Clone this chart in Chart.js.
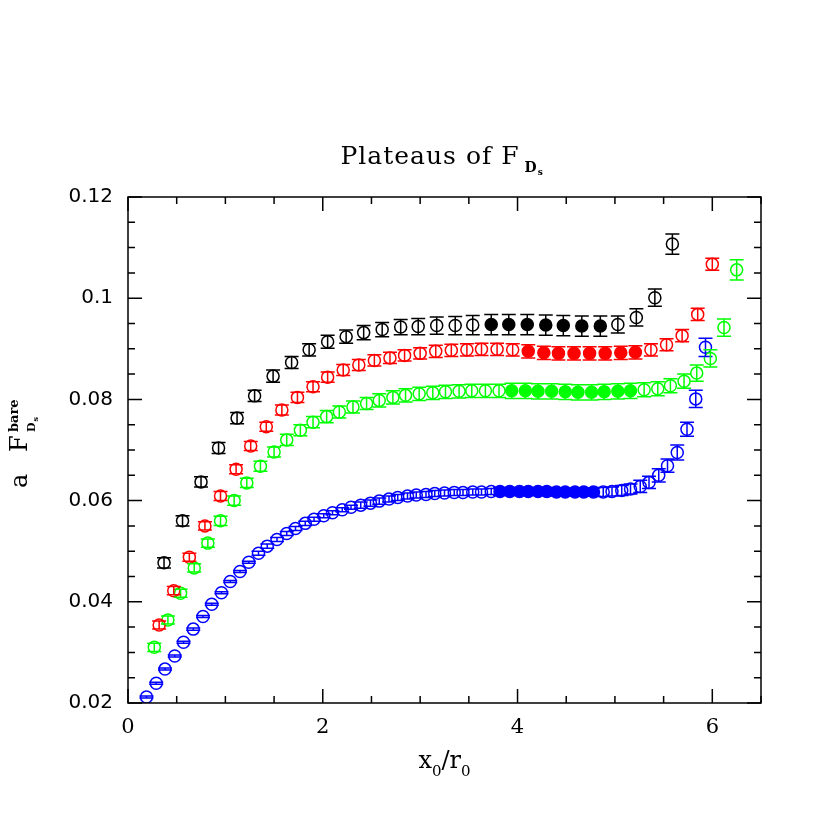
<!DOCTYPE html>
<html>
<head>
<meta charset="utf-8">
<title>Plateaus of F_Ds</title>
<script src="https://cdn.jsdelivr.net/npm/chart.js@4.4.1/dist/chart.umd.min.js"></script>
<style>
  html, body { margin: 0; padding: 0; background: #fff; }
  canvas { display: block; }
</style>
</head>
<body>
<canvas id="myChart" width="830" height="830"></canvas>
<script>
// x0/r0 of each timeslice, one list per lattice
var xBlack = [0.37, 0.56, 0.75, 0.93, 1.12, 1.30, 1.49, 1.68, 1.86, 2.05,
	2.24, 2.42, 2.61, 2.80, 2.98, 3.17, 3.36, 3.54, 3.73, 3.91,
	4.10, 4.29, 4.47, 4.66, 4.85, 5.03, 5.22, 5.41, 5.59];
var yBlack = [0.0477, 0.0560, 0.0637, 0.0704, 0.0763, 0.0807, 0.0846, 0.0873, 0.0898, 0.0914,
	0.0924, 0.0932, 0.0938, 0.0943, 0.0944, 0.0946, 0.0946, 0.0947, 0.0948, 0.0948,
	0.0948, 0.0947, 0.0946, 0.0945, 0.0945, 0.0948, 0.0962, 0.1001, 0.1107];
var eBlack = [0.0010, 0.0010, 0.0010, 0.0011, 0.0011, 0.0011, 0.0012, 0.0012, 0.0012, 0.0013,
	0.0013, 0.0014, 0.0014, 0.0015, 0.0016, 0.0017, 0.0018, 0.0019, 0.0020, 0.0020,
	0.0020, 0.0020, 0.0020, 0.0020, 0.0020, 0.0017, 0.0017, 0.0017, 0.0020];

var xRed = [0.32, 0.47, 0.63, 0.79, 0.95, 1.11, 1.26, 1.42, 1.58, 1.74,
	1.90, 2.05, 2.21, 2.37, 2.53, 2.69, 2.84, 3.00, 3.16, 3.32,
	3.48, 3.63, 3.79, 3.95, 4.11, 4.27, 4.42, 4.58, 4.74, 4.90,
	5.06, 5.21, 5.37, 5.53, 5.69, 5.85, 6.00];
var yRed = [0.0354, 0.0422, 0.0488, 0.0550, 0.0609, 0.0662, 0.0708, 0.0746, 0.0779, 0.0804,
	0.0825, 0.0844, 0.0858, 0.0868, 0.0877, 0.0882, 0.0887, 0.0891, 0.0895, 0.0897,
	0.0898, 0.0899, 0.0899, 0.0898, 0.0895, 0.0892, 0.0891, 0.0891, 0.0891, 0.0891,
	0.0892, 0.0893, 0.0898, 0.0908, 0.0926, 0.0968, 0.1067];
var eRed = [0.0008, 0.0008, 0.0008, 0.0008, 0.0009, 0.0009, 0.0009, 0.0009, 0.0010, 0.0010,
	0.0010, 0.0010, 0.0011, 0.0011, 0.0011, 0.0011, 0.0011, 0.0011, 0.0012, 0.0012,
	0.0012, 0.0012, 0.0012, 0.0012, 0.0013, 0.0013, 0.0013, 0.0013, 0.0013, 0.0013,
	0.0013, 0.0013, 0.0012, 0.0012, 0.0012, 0.0012, 0.0012];

var xGreen = [0.27, 0.41, 0.54, 0.68, 0.82, 0.95, 1.09, 1.22, 1.36, 1.50,
	1.63, 1.77, 1.90, 2.04, 2.17, 2.31, 2.45, 2.58, 2.72, 2.85,
	2.99, 3.13, 3.26, 3.40, 3.53, 3.67, 3.81, 3.94, 4.08, 4.21,
	4.35, 4.49, 4.62, 4.76, 4.89, 5.03, 5.16, 5.30, 5.44, 5.57,
	5.71, 5.84, 5.98, 6.12, 6.25];
var yGreen = [0.0310, 0.0364, 0.0417, 0.0467, 0.0516, 0.0560, 0.0600, 0.0635, 0.0668, 0.0696,
	0.0720, 0.0739, 0.0755, 0.0766, 0.0775, 0.0785, 0.0792, 0.0798, 0.0804, 0.0808,
	0.0811, 0.0813, 0.0815, 0.0816, 0.0817, 0.0817, 0.0817, 0.0817, 0.0817, 0.0816,
	0.0816, 0.0815, 0.0814, 0.0814, 0.0815, 0.0816, 0.0817, 0.0819, 0.0821, 0.0827,
	0.0836, 0.0852, 0.0881, 0.0942, 0.1056];
var eGreen = [0.0008, 0.0008, 0.0008, 0.0008, 0.0008, 0.0009, 0.0009, 0.0009, 0.0010, 0.0010,
	0.0011, 0.0011, 0.0011, 0.0012, 0.0012, 0.0012, 0.0012, 0.0013, 0.0013, 0.0013,
	0.0013, 0.0013, 0.0013, 0.0013, 0.0013, 0.0013, 0.0013, 0.0015, 0.0015, 0.0015,
	0.0015, 0.0015, 0.0015, 0.0015, 0.0015, 0.0015, 0.0015, 0.0014, 0.0014, 0.0014,
	0.0014, 0.0016, 0.0017, 0.0017, 0.0020];

var xBlue = [0.19, 0.29, 0.38, 0.48, 0.57, 0.67, 0.77, 0.86, 0.96, 1.05,
	1.15, 1.24, 1.34, 1.43, 1.53, 1.63, 1.72, 1.82, 1.91, 2.01,
	2.10, 2.20, 2.29, 2.39, 2.49, 2.58, 2.68, 2.77, 2.87, 2.96,
	3.06, 3.15, 3.25, 3.35, 3.44, 3.54, 3.63, 3.73, 3.82, 3.92,
	4.02, 4.11, 4.21, 4.30, 4.40, 4.49, 4.59, 4.68, 4.78, 4.88,
	4.97, 5.07, 5.16, 5.26, 5.35, 5.45, 5.54, 5.64, 5.74, 5.83,
	5.93];
var yBlue = [0.0212, 0.0239, 0.0267, 0.0293, 0.0320, 0.0346, 0.0371, 0.0395, 0.0418, 0.0440,
	0.0460, 0.0478, 0.0496, 0.0510, 0.0523, 0.0535, 0.0545, 0.0555, 0.0563, 0.0570,
	0.0576, 0.0582, 0.0587, 0.0591, 0.0595, 0.0599, 0.0603, 0.0606, 0.0609, 0.0611,
	0.0612, 0.0614, 0.0615, 0.0616, 0.0616, 0.0617, 0.0617, 0.0618, 0.0618, 0.0618,
	0.0618, 0.0618, 0.0618, 0.0618, 0.0617, 0.0617, 0.0617, 0.0617, 0.0617, 0.0617,
	0.0618, 0.0620, 0.0623, 0.0628, 0.0636, 0.0650, 0.0669, 0.0695, 0.0741, 0.0801,
	0.0903];
var eBlue = [0.0002, 0.0002, 0.0002, 0.0002, 0.0002, 0.0002, 0.0002, 0.0002, 0.0002, 0.0002,
	0.0002, 0.0002, 0.0004, 0.0004, 0.0004, 0.0004, 0.0004, 0.0004, 0.0004, 0.0004,
	0.0004, 0.0004, 0.0004, 0.0006, 0.0006, 0.0006, 0.0006, 0.0006, 0.0006, 0.0006,
	0.0006, 0.0006, 0.0006, 0.0006, 0.0006, 0.0006, 0.0006, 0.0006, 0.0008, 0.0008,
	0.0008, 0.0008, 0.0008, 0.0008, 0.0008, 0.0008, 0.0008, 0.0008, 0.0008, 0.0009,
	0.0009, 0.0010, 0.0010, 0.0012, 0.0012, 0.0013, 0.0013, 0.0015, 0.0014, 0.0017,
	0.0018];

// plateau (fit) ranges in x0/r0, drawn with filled symbols
var fitBlack = [3.70, 4.90];
var fitRed = [4.05, 5.25];
var fitGreen = [3.90, 5.20];
var fitBlue = [3.80, 4.80];

var xTicks = [0, 2, 4, 6];
var yTicks = [0.02, 0.04, 0.06, 0.08, 0.1, 0.12];

function series(xs, ys, es, color, fit) {
	var pts = [];
	for (var i = 0; i < xs.length; i++) {
		pts.push({x: xs[i], y: ys[i]});
	}
	return {
		data: pts,
		errors: es,
		borderColor: color,
		backgroundColor: function(c) {
			var p = c.raw;
			if (p && p.x >= fit[0] && p.x <= fit[1]) return color;
			return 'rgba(0,0,0,0)';
		},
		pointRadius: 6,
		pointHoverRadius: 6,
		pointBorderWidth: 1.5,
		showLine: false
	};
}

// vertical error bars with caps, through the symbols
var errorBars = {
	id: 'errorBars',
	afterDatasetsDraw: function(chart) {
		var ctx = chart.ctx, xs = chart.scales.x, ys = chart.scales.y, a = chart.chartArea;
		ctx.save();
		ctx.beginPath();
		ctx.rect(a.left, a.top, a.right - a.left, a.bottom - a.top);
		ctx.clip();
		ctx.lineWidth = 1.5;
		for (var d = chart.data.datasets.length - 1; d >= 0; d--) {
			var ds = chart.data.datasets[d];
			ctx.strokeStyle = ds.borderColor;
			ctx.beginPath();
			for (var i = 0; i < ds.data.length; i++) {
				var p = ds.data[i];
				var px = xs.getPixelForValue(p.x);
				var t = ys.getPixelForValue(p.y + ds.errors[i]);
				var b = ys.getPixelForValue(p.y - ds.errors[i]);
				ctx.moveTo(px, t); ctx.lineTo(px, b);
				ctx.moveTo(px - 7, t); ctx.lineTo(px + 7, t);
				ctx.moveTo(px - 7, b); ctx.lineTo(px + 7, b);
			}
			ctx.stroke();
		}
		ctx.restore();
	}
};

// box with inward ticks on all four sides
var frame = {
	id: 'frame',
	afterDraw: function(chart) {
		var ctx = chart.ctx, xs = chart.scales.x, ys = chart.scales.y, a = chart.chartArea;
		ctx.save();
		ctx.strokeStyle = '#000';
		ctx.lineWidth = 1.5;
		ctx.strokeRect(a.left, a.top, a.right - a.left, a.bottom - a.top);
		ctx.beginPath();
		var v, px, len;
		for (var k = 0; k <= 13; k++) {
			v = k * 0.5;
			px = xs.getPixelForValue(v);
			len = (k % 4 == 0) ? 14 : 7;
			ctx.moveTo(px, a.bottom); ctx.lineTo(px, a.bottom - len);
			ctx.moveTo(px, a.top); ctx.lineTo(px, a.top + len);
		}
		for (var j = 4; j <= 24; j++) {
			v = j * 0.005;
			px = ys.getPixelForValue(v);
			len = (j % 4 == 0) ? 14 : 7;
			ctx.moveTo(a.left, px); ctx.lineTo(a.left + len, px);
			ctx.moveTo(a.right, px); ctx.lineTo(a.right - len, px);
		}
		ctx.stroke();
		ctx.restore();
	}
};

// title and axis labels with sub/superscripts
var labels = {
	id: 'labels',
	afterDraw: function(chart) {
		var ctx = chart.ctx, a = chart.chartArea;
		var cx = (a.left + a.right) / 2;
		ctx.save();
		ctx.fillStyle = '#000';
		ctx.textBaseline = 'alphabetic';
		ctx.textAlign = 'left';

		// title
		var main = 'Plateaus of F';
		ctx.font = '25px "DejaVu Serif"';
		var wm = ctx.measureText(main).width;
		var ls = (178 - wm) / 12;
		if ('letterSpacing' in ctx) ctx.letterSpacing = ls + 'px'; else ls = 0;
		wm = wm + ls * 12;
		var total = wm + 30;
		var x0 = cx - total / 2;
		ctx.fillText(main, x0, 164);
		if ('letterSpacing' in ctx) ctx.letterSpacing = '0px';
		ctx.font = 'bold 14px "DejaVu Serif"';
		ctx.fillText('D', x0 + wm + 6, 172);
		var wd = ctx.measureText('D').width;
		ctx.font = 'bold 9px "DejaVu Serif"';
		ctx.fillText('s', x0 + wm + 7 + wd, 175);

		// x axis label  x0/r0
		var big = '24px "DejaVu Serif"', small = '15px "DejaVu Serif"';
		var parts = [['x', big, 0], ['0', small, 8], ['/', big, 0], ['r', big, 0], ['0', small, 8]];
		var w = 0, q;
		for (q = 0; q < parts.length; q++) {
			ctx.font = parts[q][1];
			parts[q].push(ctx.measureText(parts[q][0]).width);
			w += parts[q][3];
		}
		var xx = cx - w / 2;
		for (q = 0; q < parts.length; q++) {
			ctx.font = parts[q][1];
			ctx.fillText(parts[q][0], xx, 768 + parts[q][2]);
			xx += parts[q][3];
		}

		// y axis label  a F^bare_Ds, rotated
		ctx.translate(27, 488);
		ctx.rotate(-Math.PI / 2);
		ctx.font = '24px "DejaVu Serif"';
		ctx.fillText('a', 0, 0);
		ctx.fillText('F', 36, 0);
		ctx.font = 'bold 13px "DejaVu Serif"';
		ctx.fillText('bare', 56, -9);
		ctx.font = 'bold 11px "DejaVu Serif"';
		ctx.fillText('D', 56, 8);
		var wD = ctx.measureText('D').width;
		ctx.font = 'bold 8px "DejaVu Serif"';
		ctx.fillText('s', 57 + wD, 11);
		ctx.restore();
	}
};

var ctx = document.getElementById('myChart');
var myChart = new Chart(ctx, {
	type: 'scatter',
	data: {
		datasets: [
			series(xBlack, yBlack, eBlack, '#000000', fitBlack),
			series(xRed, yRed, eRed, '#ff0000', fitRed),
			series(xGreen, yGreen, eGreen, '#00ff00', fitGreen),
			series(xBlue, yBlue, eBlue, '#0000ff', fitBlue)
		]
	},
	options: {
		responsive: false,
		animation: false,
		events: [],
		layout: {padding: {top: 197, right: 69, left: 0, bottom: 0}},
		plugins: {
			legend: {display: false},
			tooltip: {enabled: false},
			title: {display: false}
		},
		scales: {
			x: {
				type: 'linear',
				min: 0,
				max: 6.5,
				afterFit: function(s) { s.height = 127; },
				afterBuildTicks: function(s) {
					s.ticks = xTicks.map(function(v) { return {value: v}; });
				},
				grid: {display: false, drawTicks: false},
				border: {display: false},
				ticks: {
					padding: 12,
					color: '#000',
					font: {family: '"DejaVu Serif"', size: 21},
					maxRotation: 0,
					callback: function(v) { return String(v); }
				}
			},
			y: {
				type: 'linear',
				min: 0.02,
				max: 0.12,
				afterFit: function(s) { s.width = 128; },
				afterBuildTicks: function(s) {
					s.ticks = yTicks.map(function(v) { return {value: v}; });
				},
				grid: {display: false, drawTicks: false},
				border: {display: false},
				ticks: {
					padding: 15,
					color: '#000',
					font: {family: '"DejaVu Sans"', size: 20},
					callback: function(v) { return String(+v.toFixed(3)); }
				}
			}
		}
	},
	plugins: [errorBars, frame, labels]
});
</script>
</body>
</html>
